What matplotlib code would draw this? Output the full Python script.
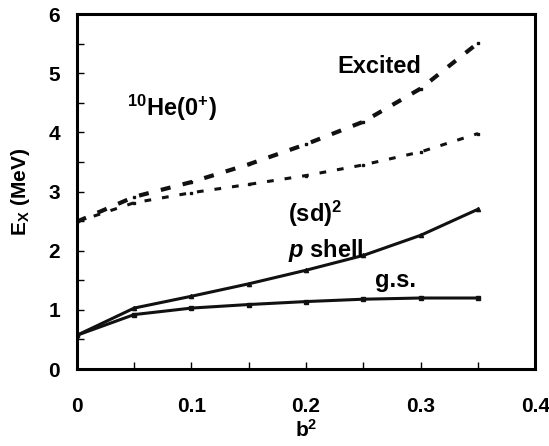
import matplotlib
matplotlib.use("Agg")
import matplotlib.pyplot as plt

b2 = [0.0, 0.05, 0.10, 0.15, 0.20, 0.25, 0.30, 0.35]
excited_upper = [2.49, 2.91, 3.16, 3.46, 3.80, 4.18, 4.74, 5.51]
excited_lower = [2.49, 2.81, 2.98, 3.12, 3.27, 3.45, 3.67, 3.98]
pshell = [0.57, 1.03, 1.23, 1.44, 1.67, 1.92, 2.26, 2.70]
gs = [0.57, 0.92, 1.03, 1.09, 1.14, 1.18, 1.20, 1.20]

x_ticks = [0, 0.1, 0.2, 0.3, 0.4]
x_ticklabels = ["0", "0.1", "0.2", "0.3", "0.4"]
y_ticks = [0, 1, 2, 3, 4, 5, 6]

plt.rcParams['font.family'] = ['Liberation Sans', 'DejaVu Sans']
plt.rcParams['mathtext.fontset'] = 'custom'
plt.rcParams['mathtext.rm'] = 'Liberation Sans:bold'
plt.rcParams['mathtext.bf'] = 'Liberation Sans:bold'
plt.rcParams['mathtext.it'] = 'Liberation Sans:italic:bold'

fig = plt.figure(figsize=(5.49, 4.46), dpi=100)
ax = fig.add_axes([0.140, 0.1726, 0.835, 0.796])

ax.plot(b2, excited_upper, color='#111111', lw=3.0, dashes=(2.4, 3.0),
        marker='s', ms=2.0)
ax.plot(b2, excited_lower, color='#111111', lw=2.2, dashes=(2.2, 3.6),
        marker='s', ms=2.0)
ax.plot(b2, pshell, color='#111111', lw=2.2, marker='^', ms=3)
ax.plot(b2, gs, color='#111111', lw=2.2, marker='s', ms=3)

ax.set_xlim(0, 0.4)
ax.set_ylim(0, 6)
ax.set_xticks(x_ticks)
ax.set_xticklabels(x_ticklabels)
ax.set_xticks([0.05, 0.15, 0.25, 0.35], minor=True)
ax.set_yticks(y_ticks)
ax.set_yticks([0.5, 1.5, 2.5, 3.5, 4.5, 5.5], minor=True)

ax.tick_params(axis='both', which='both', direction='in', width=1.0)
ax.tick_params(axis='both', which='major', length=5, labelsize=15)
ax.tick_params(axis='both', which='minor', length=5)
ax.tick_params(axis='x', which='major', pad=20)
ax.tick_params(axis='y', which='major', pad=12)
for lab in ax.get_xticklabels() + ax.get_yticklabels():
    lab.set_fontweight('bold')
for sp in ax.spines.values():
    sp.set_linewidth(2.2)

ax.set_xlabel(r'$\mathbf{b^{2}}$', fontsize=15, labelpad=2)
ax.set_ylabel(r'$\mathbf{E_X}$ (MeV)', fontsize=15, fontweight='bold', labelpad=12)

ax.text(0.227, 5.12, 'Excited', fontsize=17, fontweight='bold', va='center', ha='left')
ax.text(0.044, 4.42, r'$^{10}$He(0$^{+}$)', fontsize=17, fontweight='bold', va='center', ha='left')
ax.text(0.184, 2.63, r'(sd)$^{2}$', fontsize=17, fontweight='bold', va='center', ha='left')
ax.text(0.184, 2.01, r'$p$ shell', fontsize=17, fontweight='bold', va='center', ha='left')
ax.text(0.26, 1.50, 'g.s.', fontsize=17, fontweight='bold', va='center', ha='left')

fig.savefig('out.png', dpi=100)
